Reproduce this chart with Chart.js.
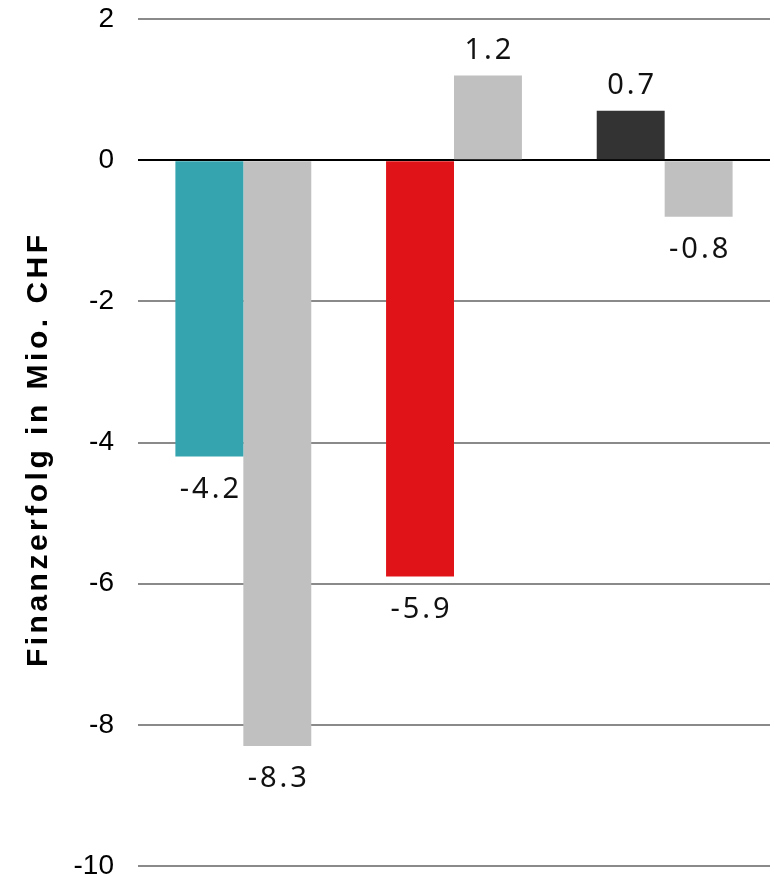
<!DOCTYPE html>
<html>
<head>
<meta charset="utf-8">
<script src="https://cdn.jsdelivr.net/npm/chart.js@4"></script>
<style>
  html, body { margin: 0; padding: 0; background: #fff; }
  #wrap { width: 774px; height: 877px; }
</style>
</head>
<body>
<div id="wrap"><canvas id="myChart"></canvas></div>
<script>
var categories = ['A', 'B', 'C'];
var mainValues = [-4.2, -5.9, 0.7];
var compareValues = [-8.3, 1.2, -0.8];
var mainColors = ['#35a4af', '#e01418', '#333333'];
var compareColor = '#c0c0c0';
var yTicks = [2, 0, -2, -4, -6, -8, -10];
var yTitle = 'Finanzerfolg in Mio. CHF';

// letter-spaced text, centred on x
function spacedText(ctx, txt, x, y, spacing) {
    ctx.save();
    ctx.letterSpacing = spacing + 'px';
    var w = ctx.measureText(txt).width - spacing;
    ctx.textAlign = 'left';
    ctx.fillText(txt, x - w / 2, y);
    ctx.restore();
}

var textPlugin = {
    id: 'textPlugin',
    afterDraw: function (chart) {
        var ctx = chart.ctx;
        var y = chart.scales.y;
        ctx.save();
        ctx.fillStyle = '#000';
        ctx.textBaseline = 'middle';

        // y tick labels
        ctx.font = '28px "Liberation Sans", Arial';
        ctx.textAlign = 'right';
        yTicks.forEach(function (v) {
            ctx.fillText(String(v), 114, y.getPixelForValue(v));
        });

        // axis title
        ctx.save();
        ctx.font = 'bold 30px "Liberation Sans", Arial';
        ctx.textBaseline = 'alphabetic';
        ctx.translate(47, 451);
        ctx.rotate(-Math.PI / 2);
        spacedText(ctx, yTitle, 0, 0, 3.5);
        ctx.restore();

        // value labels
        ctx.font = '29px "Noto Sans"';
        ctx.fillStyle = '#111';
        chart.data.datasets.forEach(function (ds, i) {
            chart.getDatasetMeta(i).data.forEach(function (bar, j) {
                var v = ds.data[j];
                var ty = v >= 0 ? bar.y - 25 : bar.y + 33;
                spacedText(ctx, v.toFixed(1), bar.x, ty, 3);
            });
        });
        ctx.restore();
    }
};

var ctx = document.getElementById('myChart').getContext('2d');
var chart = new Chart(ctx, {
    type: 'bar',
    data: {
        labels: categories,
        datasets: [{
            data: mainValues,
            backgroundColor: mainColors,
            barPercentage: 1,
            categoryPercentage: 0.645
        }, {
            data: compareValues,
            backgroundColor: compareColor,
            barPercentage: 1,
            categoryPercentage: 0.645
        }]
    },
    options: {
        responsive: true,
        maintainAspectRatio: false,
        animation: false,
        layout: { padding: { top: 19, right: 4, bottom: 3, left: 0 } },
        plugins: {
            legend: { display: false },
            tooltip: { enabled: false }
        },
        scales: {
            x: {
                ticks: { display: false },
                grid: { display: false },
                border: { display: false }
            },
            y: {
                min: -10,
                max: 2,
                afterBuildTicks: function (axis) {
                    axis.ticks = yTicks.map(function (v) { return { value: v }; });
                },
                afterFit: function (axis) { axis.width = 138; },
                ticks: { display: false },
                grid: {
                    drawTicks: false,
                    color: function (c) { return c.tick.value === 0 ? '#000' : '#8a8a8a'; },
                    lineWidth: 2
                },
                border: { display: false }
            }
        }
    },
    plugins: [textPlugin]
});
</script>
</body>
</html>
